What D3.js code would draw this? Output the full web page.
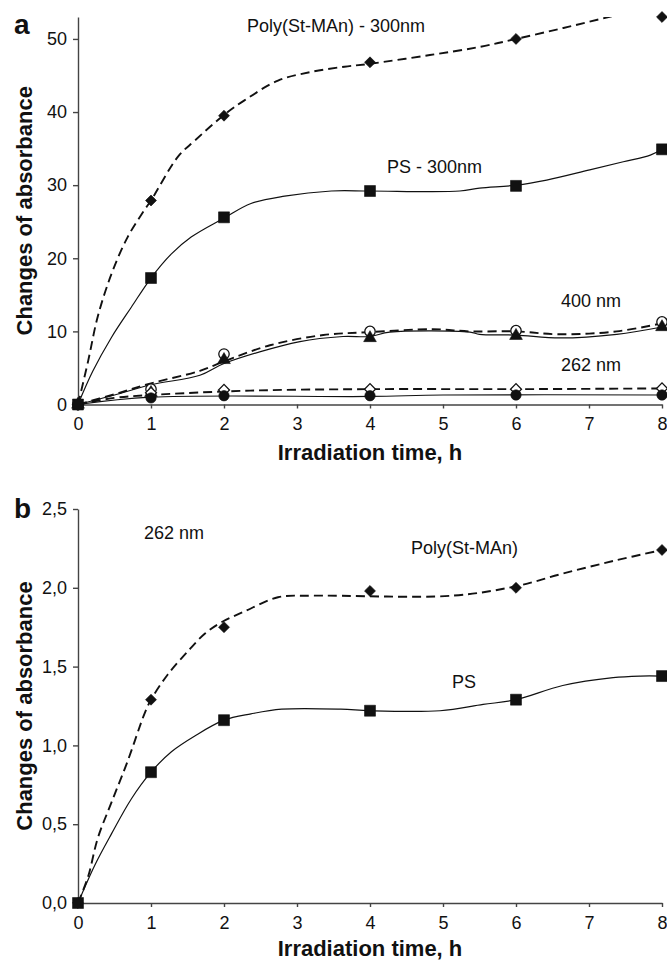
<!DOCTYPE html>
<html lang="en">
<head>
<meta charset="UTF-8">
<title>Changes of absorbance vs irradiation time</title>
<script src="https://d3js.org/d3.v7.min.js"></script>
<style>
  body { margin: 0; background: #fff; }
  text { font-family: "Liberation Sans", Arial, sans-serif; fill: #111; }
</style>
</head>
<body>
<svg id="chart" width="667" height="962"></svg>
<script>
// measurement times, h
const hours = [0, 1, 2, 4, 6, 8];
const xTicks = [0, 1, 2, 3, 4, 5, 6, 7, 8];

// panel a: measured points
const aPoly300 = [0, 27.9, 39.5, 46.8, 50.0, 53.0];   // filled diamonds
const aPs300 = [0, 17.3, 25.6, 29.2, 29.9, 34.9];     // filled squares
const aPoly400 = [0, 2.1, 6.9, 10.0, 10.1, 11.3];     // open circles
const aPs400 = [0, 1.6, 6.1, 9.1, 9.4, 10.6];         // filled triangles
const aPoly262 = [0, 1.6, 2.0, 2.1, 2.1, 2.2];        // open diamonds
const aPs262 = [0, 0.9, 1.2, 1.2, 1.3, 1.3];          // filled circles
const aYTicks = [0, 10, 20, 30, 40, 50];

// panel a: drawn trend curves [h, value]
const aPoly300Curve = [[0,0],[0.14,6.0],[0.27,12.0],[0.46,17.9],[0.68,22.9],[0.91,26.6],[1,27.9],[1.37,33.9],[1.6,36.1],[2,39.6],[2.28,41.6],[2.74,44.3],[3.2,45.5],[3.65,46.2],[4,46.6],[4.82,47.8],[5.5,48.9],[6,50.0],[6.65,51.5],[7.31,53.1],[8,54.8]];
const aPs300Curve = [[0,0],[0.2,4.5],[0.46,9.2],[0.73,13.3],[1,17.3],[1.28,20.6],[1.55,22.9],[2,25.5],[2.37,27.5],[2.83,28.5],[3.47,29.2],[4,29.2],[5.23,29.2],[5.5,29.6],[6,30.0],[6.42,30.7],[7.01,32.1],[7.47,33.2],[7.84,34.1],[8,34.9]];
const aPoly400Curve = [[0,0],[0.5,1.4],[1,2.9],[1.67,4.6],[2,5.9],[2.63,8.1],[3.36,9.5],[4,9.9],[4.86,10.3],[5.37,10.0],[6,10.0],[6.6,9.6],[7.38,10.0],[8,11.1]];
const aPs400Curve = [[0,0],[0.5,1.3],[1,2.7],[1.67,4.0],[2,5.6],[3.04,8.6],[3.63,9.3],[4,9.3],[4.27,9.9],[5.37,9.9],[5.5,9.6],[6,9.5],[6.6,9.1],[7.38,9.6],[8,10.6]];
const aPoly262Curve = [[0,0],[0.5,0.9],[1,1.3],[2.36,1.9],[4,2.1],[6,2.1],[8,2.2]];
const aPs262Curve = [[0,0],[1,1.0],[4,1.1],[5,1.3],[8,1.3]];

// panel b: measured points (262 nm)
const bPoly262 = [0, 1.29, 1.75, 1.98, 2.0, 2.24];
const bPs262 = [0, 0.83, 1.16, 1.22, 1.29, 1.44];
const bYTicks = [0, 0.5, 1.0, 1.5, 2.0, 2.5];

const bPolyCurve = [[0,0],[0.14,0.17],[0.27,0.41],[0.46,0.64],[0.68,0.9],[0.91,1.2],[1,1.29],[1.23,1.45],[1.51,1.6],[1.74,1.71],[1.96,1.78],[2.28,1.85],[2.74,1.94],[3.2,1.95],[5.13,1.95],[6,2.01],[6.64,2.09],[7.33,2.17],[8,2.24]];
const bPsCurve = [[0,0],[0.23,0.24],[0.46,0.44],[0.73,0.66],[1,0.83],[1.28,0.96],[1.6,1.06],[2,1.16],[2.37,1.2],[2.79,1.23],[3.6,1.23],[4,1.22],[4.96,1.22],[5.55,1.26],[6,1.29],[6.64,1.38],[7.33,1.43],[7.7,1.44],[8,1.44]];

const svg = d3.select("#chart");

function drawPanel(p) {
    const g = svg.append("g");
    const x = d3.scaleLinear().domain([0, 8]).range([78, 662]);
    const y = d3.scaleLinear().domain(p.yDomain).range(p.yRange);

    g.append("clipPath").attr("id", p.id + "-clip")
        .append("rect")
        .attr("x", 70).attr("y", p.yRange[1])
        .attr("width", 600).attr("height", p.yRange[0] - p.yRange[1] + 8);

    // axes
    const xAxis = g.append("g")
        .attr("transform", `translate(0,${p.yRange[0]})`)
        .call(d3.axisBottom(x).tickValues(xTicks).tickSize(4).tickSizeOuter(0).tickPadding(9));
    const yAxis = g.append("g")
        .attr("transform", "translate(78,0)")
        .call(d3.axisLeft(y).tickValues(p.yTicks).tickSize(5).tickSizeOuter(0).tickPadding(6)
            .tickFormat(p.fmt));
    [xAxis, yAxis].forEach(a => {
        a.selectAll("path, line").attr("stroke", "#444").attr("stroke-width", 1.4);
        a.selectAll("text").style("font-size", "18px").attr("fill", "#111");
    });

    // curves
    const line = d3.line().x(d => x(d[0])).y(d => y(d[1])).curve(d3.curveCatmullRom.alpha(0.5));
    const curves = g.append("g").attr("clip-path", `url(#${p.id}-clip)`);
    p.curves.forEach(c => {
        curves.append("path")
            .attr("d", line(c.pts))
            .attr("fill", "none")
            .attr("stroke", "#111")
            .attr("stroke-width", c.dashed ? 1.9 : 1.2)
            .attr("stroke-dasharray", c.dashed ? "9,5" : null);
    });

    // markers
    const symbols = {
        square: { type: d3.symbolSquare, size: 120, rot: 0 },
        diamond: { type: d3.symbolSquare, size: 60, rot: 45 },
        circle: { type: d3.symbolCircle, size: 85, rot: 0 },
        triangle: { type: d3.symbolTriangle, size: 70, rot: 0 }
    };
    p.series.forEach(s => {
        const sym = symbols[s.shape];
        g.append("g").selectAll("path")
            .data(hours.map((h, i) => [h, s.values[i]]))
            .join("path")
            .attr("transform", d => `translate(${x(d[0])},${y(d[1])}) rotate(${sym.rot})`)
            .attr("d", d3.symbol().type(sym.type).size(sym.size))
            .attr("fill", s.open ? "#fff" : "#111")
            .attr("stroke", "#111")
            .attr("stroke-width", s.open ? 1.3 : 0.6);
    });

    // axis titles
    g.append("text")
        .attr("x", 370).attr("y", p.xTitleY)
        .attr("text-anchor", "middle")
        .style("font-size", "22px").style("font-weight", "bold")
        .text("Irradiation time, h");
    const midY = (p.yRange[0] + p.yRange[1]) / 2;
    g.append("text")
        .attr("transform", `translate(32,${midY}) rotate(-90)`)
        .attr("text-anchor", "middle")
        .style("font-size", "22px").style("font-weight", "bold")
        .text("Changes of absorbance");

    g.append("text")
        .attr("x", 14).attr("y", p.letterY)
        .style("font-size", "28px").style("font-weight", "bold")
        .text(p.letter);

    p.labels.forEach(l => {
        g.append("text")
            .attr("x", l.x).attr("y", l.y)
            .style("font-size", "18px")
            .text(l.text);
    });
}

drawPanel({
    id: "a", letter: "a", letterY: 34,
    yDomain: [0, 53], yRange: [404.5, 17], yTicks: aYTicks,
    fmt: d3.format("d"), xTitleY: 460,
    curves: [
        { pts: aPoly300Curve, dashed: true },
        { pts: aPs300Curve, dashed: false },
        { pts: aPoly400Curve, dashed: true },
        { pts: aPs400Curve, dashed: false },
        { pts: aPoly262Curve, dashed: true },
        { pts: aPs262Curve, dashed: false }
    ],
    series: [
        { values: aPoly300, shape: "diamond" },
        { values: aPs300, shape: "square" },
        { values: aPoly400, shape: "circle", open: true },
        { values: aPs400, shape: "triangle" },
        { values: aPoly262, shape: "diamond", open: true },
        { values: aPs262, shape: "circle" }
    ],
    labels: [
        { text: "Poly(St-MAn) - 300nm", x: 247, y: 31.5 },
        { text: "PS - 300nm", x: 387, y: 172.5 },
        { text: "400 nm", x: 561, y: 306.5 },
        { text: "262 nm", x: 561, y: 370.5 }
    ]
});

drawPanel({
    id: "b", letter: "b", letterY: 518,
    yDomain: [0, 2.5], yRange: [903, 509], yTicks: bYTicks,
    fmt: d => d3.format(".1f")(d).replace(".", ","), xTitleY: 956,
    curves: [
        { pts: bPolyCurve, dashed: true },
        { pts: bPsCurve, dashed: false }
    ],
    series: [
        { values: bPoly262, shape: "diamond" },
        { values: bPs262, shape: "square" }
    ],
    labels: [
        { text: "262 nm", x: 144, y: 539 },
        { text: "Poly(St-MAn)", x: 411, y: 554 },
        { text: "PS", x: 452, y: 688 }
    ]
});
</script>
</body>
</html>
